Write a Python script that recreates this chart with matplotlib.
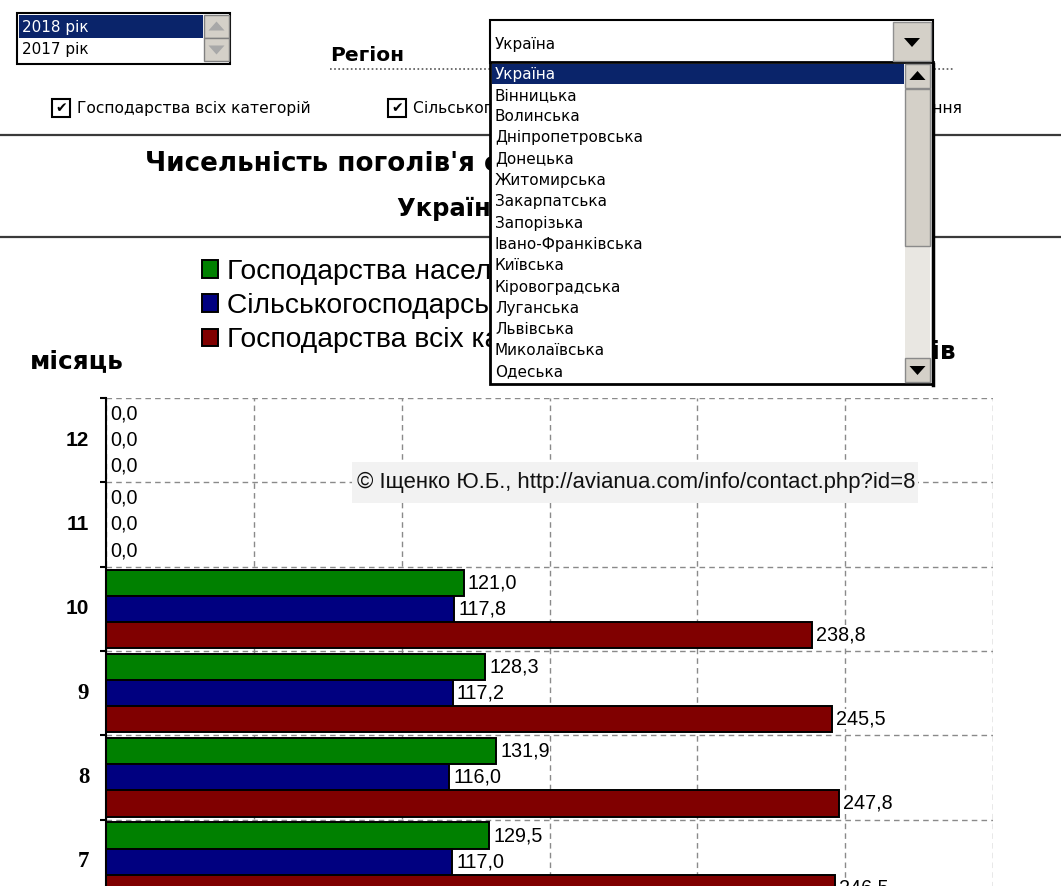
import matplotlib
matplotlib.use('Agg')
import matplotlib.pyplot as plt
from matplotlib.patches import Rectangle, Polygon
from matplotlib.font_manager import FontProperties
import numpy as np

# ---------------- data ----------------
months = [12, 11, 10, 9, 8, 7]
households = [0.0, 0.0, 121.0, 128.3, 131.9, 129.5]
enterprises = [0.0, 0.0, 117.8, 117.2, 116.0, 117.0]
all_categories = [0.0, 0.0, 238.8, 245.5, 247.8, 246.5]
series_names = ["Господарства населення",
                "Сільськогосподарські підприємства",
                "Господарства всіх категорій"]
series_colors = ["#008000", "#000080", "#800000"]
x_ticks = [0, 50, 100, 150, 200, 250, 300]

years = ["2018 рік", "2017 рік"]
regions = ["Україна", "Вінницька", "Волинська", "Дніпропетровська", "Донецька",
           "Житомирська", "Закарпатська", "Запорізька", "Івано-Франківська",
           "Київська", "Кіровоградська", "Луганська", "Львівська",
           "Миколаївська", "Одеська"]
checkbox_labels = ["Господарства всіх категорій",
                   "Сільськогосподарські підприємства",
                   "Господарства населення"]
title_line1 = "Чисельність поголів'я сільськогосподарської птиці"
title_line2 = "Україна, 2018 рік"
x_title = "млн. голів"
y_title = "місяць"
region_label = "Регіон"
watermark = "© Іщенко Ю.Б., http://avianua.com/info/contact.php?id=8"

# ---------------- figure ----------------
W, H = 1061, 886
fig = plt.figure(figsize=(W / 100, H / 100), dpi=100)
fig.patch.set_facecolor('white')


def fx(px):
    return px / W


def fy(py):
    return 1 - py / H


# ---------------- chart axes ----------------
n = len(months)
cat_h = 84.3
top = 398
left_px, right_px = 106, 993
ax = fig.add_axes([fx(left_px), fy(top + n * cat_h), (right_px - left_px) / W, n * cat_h / H])
ax.set_facecolor('white')
pos = np.arange(n)
bh = 0.31
vals = [households, enterprises, all_categories]
offs = [-bh, 0.0, bh]
bars = []
for v, o, c, name in zip(vals, offs, series_colors, series_names):
    b = ax.barh(pos + o, v, height=bh, color=c, edgecolor='black', linewidth=1.4,
                label=name, zorder=3)
    bars.append(b)
    ax.bar_label(b, labels=[f"{x:.1f}".replace('.', ',') for x in v], padding=3,
                 fontsize=14.2, family='Liberation Sans', color='black',
                 bbox=dict(facecolor='white', edgecolor='none', pad=0.4), zorder=4)

ax.set_xlim(0, 300)
ax.set_ylim(n - 0.5, -0.5)
ax.set_xticks(x_ticks)
ax.tick_params(axis='x', length=0, labelbottom=False)
ax.set_yticks(pos)
ax.set_yticks(np.arange(n + 1) - 0.5, minor=True)
ax.tick_params(axis='y', which='major', length=0, labelleft=False)
ax.tick_params(axis='y', which='minor', length=4.5, width=1.5, direction='out', color='black')
# month labels (Excel mixes fonts here: 12-10 sans, 9-7 serif)
sans_fp = FontProperties(family='Liberation Sans', weight='bold', size=15)
serif_fp = FontProperties(family='Liberation Serif', weight='bold', size=16.5)
for p, m in zip(pos, months):
    ax.annotate(str(m), xy=(0, p), xycoords=('axes fraction', 'data'),
                xytext=(-12, 0), textcoords='offset points', ha='right', va='center',
                fontproperties=sans_fp if m >= 10 else serif_fp, color='black')
ax.grid(True, which='major', axis='x', linestyle=(0, (4, 3)), color='#8a8a8a', lw=1, zorder=1)
ax.grid(True, which='minor', axis='y', linestyle=(0, (4, 3)), color='#8a8a8a', lw=1, zorder=1)
ax.grid(False, which='major', axis='y')
for s in ['top', 'right', 'bottom']:
    ax.spines[s].set_visible(False)
ax.spines['left'].set_linewidth(1.5)
ax.spines['left'].set_color('black')
ax.spines['left'].set_zorder(5)

ax.legend(handles=bars, loc='upper left', bbox_to_anchor=(fx(202), fy(259)),
          bbox_transform=fig.transFigure, frameon=False,
          prop={'family': 'Liberation Sans', 'size': 20.3},
          handlelength=0.57, handleheight=0.57, handletextpad=0.32,
          labelspacing=0.28, borderpad=0, borderaxespad=0)

# ---------------- UI overlay (pixel coordinates) ----------------
ui = fig.add_axes([0, 0, 1, 1], zorder=5)
ui.set_xlim(0, W)
ui.set_ylim(H, 0)
ui.axis('off')
ui.patch.set_alpha(0)

GRAY = '#d4d0c8'
NAVY = '#0a246a'

# separators
for yy in (135, 237):
    ui.plot([0, W], [yy, yy], color='#3a3a3a', lw=1.6, zorder=2)

# titles
ui.text(145, 163, title_line1, ha='left', va='center', fontsize=18.8,
        fontweight='bold', family='DejaVu Sans', zorder=2)
ui.text(397, 209, title_line2, ha='left', va='center', fontsize=17.5,
        fontweight='bold', family='DejaVu Sans', zorder=2)
ui.text(30, 361, y_title, ha='left', va='center', fontsize=17.8,
        fontweight='bold', family='DejaVu Sans', zorder=2)
ui.text(956, 352, x_title, ha='right', va='center', fontsize=17.8,
        fontweight='bold', family='DejaVu Sans', zorder=2)

# watermark
ui.add_patch(Rectangle((352, 462), 566, 41, facecolor='#f2f2f2', edgecolor='none', zorder=3))
ui.text(357, 482, watermark, ha='left', va='center', fontsize=15.9,
        family='Liberation Sans', color='#111111', zorder=4)

# year listbox
ui.add_patch(Rectangle((17, 13), 213, 51, facecolor='white', edgecolor='black', lw=1.5, zorder=6))
ui.add_patch(Rectangle((19, 15), 184, 23, facecolor=NAVY, edgecolor='none', zorder=7))
ui.text(22, 27, years[0], ha='left', va='center', fontsize=11, color='white',
        family='DejaVu Sans', zorder=8)
ui.text(22, 49, years[1], ha='left', va='center', fontsize=11, color='black',
        family='DejaVu Sans', zorder=8)
for (y0, up) in ((15, True), (38, False)):
    ui.add_patch(Rectangle((204, y0), 25, 23, facecolor=GRAY, edgecolor='#808080', lw=1, zorder=7))
    cx, cy = 216.5, y0 + 11.5
    if up:
        pts = [(cx - 8, cy + 4), (cx + 8, cy + 4), (cx, cy - 5)]
    else:
        pts = [(cx - 8, cy - 4), (cx + 8, cy - 4), (cx, cy + 5)]
    ui.add_patch(Polygon(pts, closed=True, facecolor='#a8a8a8', edgecolor='none', zorder=8))

# region label + dotted line
ui.text(330, 55, region_label, ha='left', va='center', fontsize=14.5,
        fontweight='bold', family='DejaVu Sans', zorder=2)
ui.plot([330, 955], [68.5, 68.5], color='#555555', lw=1.2, linestyle=(0, (1, 1.5)), zorder=2)


# checkboxes
def checkbox(x, y, label, right=None):
    if right is not None:
        ui.text(right, y + 9, label, ha='right', va='center', fontsize=11.2,
                family='DejaVu Sans', zorder=2)
    else:
        ui.text(x + 25, y + 9, label, ha='left', va='center', fontsize=11.2,
                family='DejaVu Sans', zorder=2)
    ui.add_patch(Rectangle((x, y), 18, 18, facecolor='white', edgecolor='black', lw=1.5, zorder=2))
    ui.text(x + 9, y + 9.5, '✔', ha='center', va='center', fontsize=10,
            family='DejaVu Sans', zorder=3)


checkbox(52, 99, checkbox_labels[0])
checkbox(388, 99, checkbox_labels[1])
checkbox(760, 99, checkbox_labels[2], right=962)

# region combobox
Z = 20
ui.add_patch(Rectangle((490, 20), 443, 43, facecolor='white', edgecolor='black', lw=1.5, zorder=Z))
ui.text(495, 44, regions[0], ha='left', va='center', fontsize=11,
        family='DejaVu Sans', zorder=Z + 1)
ui.add_patch(Rectangle((893, 22), 38, 39, facecolor=GRAY, edgecolor='#909090', lw=1, zorder=Z + 1))
ui.add_patch(Polygon([(904, 38), (920, 38), (912, 47)], closed=True, facecolor='black',
                     edgecolor='none', zorder=Z + 2))

# dropdown list
ui.add_patch(Rectangle((490, 62), 443, 322, facecolor='white', edgecolor='black', lw=2, zorder=Z))
ui.plot([933, 933], [64, 385], color='black', lw=2.5, zorder=Z + 3)
ui.add_patch(Rectangle((492, 64), 412, 20, facecolor=NAVY, edgecolor='none', zorder=Z + 1))
for i, r in enumerate(regions):
    ui.text(495, 74 + 21.3 * i, r, ha='left', va='center', fontsize=11,
            family='DejaVu Sans', color='white' if i == 0 else 'black', zorder=Z + 2)
# scrollbar
ui.add_patch(Rectangle((905, 246), 25, 112, facecolor='#e9e7e2', edgecolor='none', zorder=Z + 1))
ui.add_patch(Rectangle((905, 89), 25, 157, facecolor=GRAY, edgecolor='#8a8a8a', lw=1, zorder=Z + 1))
for (y0, up) in ((64, True), (358, False)):
    ui.add_patch(Rectangle((905, y0), 25, 24, facecolor=GRAY, edgecolor='#8a8a8a', lw=1, zorder=Z + 1))
    cx, cy = 917.5, y0 + 12
    if up:
        pts = [(cx - 8, cy + 4), (cx + 8, cy + 4), (cx, cy - 5)]
    else:
        pts = [(cx - 8, cy - 4), (cx + 8, cy - 4), (cx, cy + 5)]
    ui.add_patch(Polygon(pts, closed=True, facecolor='black', edgecolor='none', zorder=Z + 2))

fig.savefig('out.png', dpi=100, facecolor='white')
